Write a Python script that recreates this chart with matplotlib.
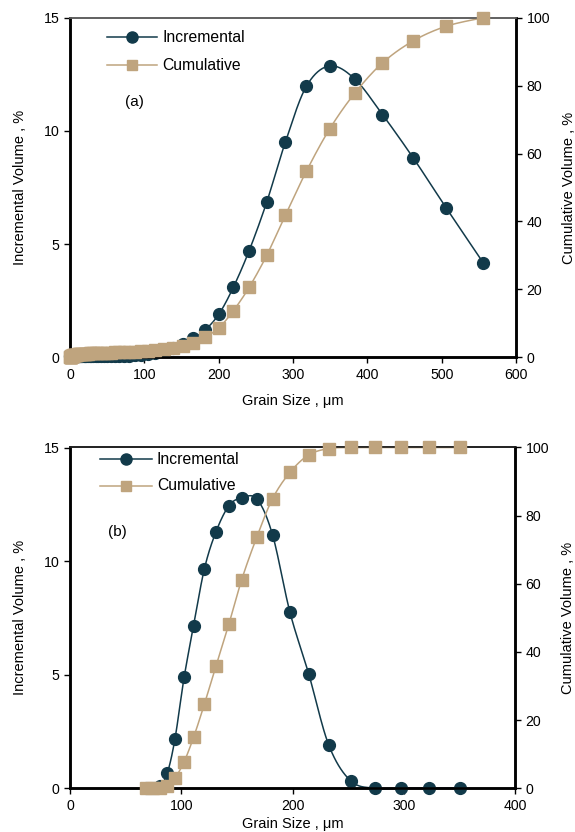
import numpy as np
import matplotlib
matplotlib.use("Agg")
import matplotlib.pyplot as plt
from matplotlib.lines import Line2D

plt.rcParams['font.family'] = ['Liberation Sans', 'DejaVu Sans']

# ---------------- data (a) ----------------
size_a = [0.5, 0.6, 0.7, 0.8, 1.0, 1.1, 1.3, 1.5, 1.7, 2.0, 2.2, 2.4, 2.6, 2.9,
          3.2, 3.5, 3.8, 4.2, 4.6, 5.0, 5.5, 6.0, 6.6, 7.2, 7.9, 8.7, 9.5, 10.5,
          11.5, 12.6, 13.8, 15.1, 16.6, 18.2, 20.0, 21.9, 24.0, 26.3, 28.8, 31.6,
          34.7, 38.0, 41.7, 45.7, 50.1, 55.0, 60.3, 66.1, 72.4, 79.4, 87.1, 95.5,
          104.7, 114.8, 125.9, 138.0, 151.4, 166.0, 181.6, 200.4, 219.7, 241.0,
          264.6, 289.9, 318.0, 349.2, 383.2, 420.4, 461.9, 506.3, 556.0]
inc_a = [0.04, 0.04, 0.04, 0.04, 0.04, 0.04, 0.04, 0.04, 0.04, 0.04, 0.04, 0.04,
         0.04, 0.04, 0.04, 0.04, 0.04, 0.04, 0.04, 0.04, 0.04, 0.04, 0.04, 0.04,
         0.04, 0.04, 0.04, 0.04, 0.04, 0.04, 0.04, 0.04, 0.04, 0.04, 0.04, 0.04,
         0.04, 0.04, 0.04, 0.04, 0.04, 0.04, 0.04, 0.05, 0.05, 0.05, 0.06, 0.06,
         0.07, 0.07, 0.08, 0.10, 0.13, 0.18, 0.28, 0.42, 0.60, 0.84, 1.20, 1.91,
         3.09, 4.71, 6.85, 9.52, 11.97, 12.87, 12.29, 10.72, 8.80, 6.59, 4.17]
cum_a = [0.02, 0.05, 0.08, 0.11, 0.14, 0.17, 0.20, 0.23, 0.26, 0.29, 0.32, 0.35,
         0.38, 0.41, 0.44, 0.47, 0.50, 0.53, 0.56, 0.59, 0.62, 0.65, 0.68, 0.71,
         0.74, 0.77, 0.80, 0.83, 0.86, 0.89, 0.92, 0.95, 0.98, 1.01, 1.04, 1.07,
         1.10, 1.13, 1.16, 1.19, 1.22, 1.25, 1.28, 1.32, 1.36, 1.40, 1.45, 1.50,
         1.56, 1.62, 1.70, 1.80, 1.93, 2.10, 2.35, 2.75, 3.40, 4.30, 5.90, 8.70,
         13.7, 20.6, 30.0, 41.9, 54.8, 67.2, 77.8, 86.7, 93.2, 97.5, 100.0]

# ---------------- data (b) ----------------
size_b = [68.7, 74.6, 80.9, 87.4, 94.3, 102.6, 111.1, 120.7, 131.2, 142.9, 154.2,
          168.0, 182.1, 197.7, 214.5, 232.7, 252.5, 274.4, 297.1, 322.6, 350.4]
inc_b = [0.00, 0.02, 0.10, 0.66, 2.16, 4.89, 7.15, 9.64, 11.29, 12.44, 12.78,
         12.73, 11.15, 7.75, 5.05, 1.89, 0.32, 0.00, 0.00, 0.00, 0.00]
cum_b = [0.00, 0.02, 0.12, 0.78, 2.94, 7.83, 14.98, 24.6, 35.9, 48.3, 61.1,
         73.8, 85.0, 92.7, 97.8, 99.7, 100.0, 100.0, 100.0, 100.0, 100.0]

INC_COLOR = '#123A4A'
CUM_COLOR = '#BFA47E'


def smooth(x, y, xr, yr, n=20):
    """Catmull-Rom smoothing of a polyline in normalized axes space (drawing only)."""
    x = np.asarray(x, float) / xr
    y = np.asarray(y, float) / yr
    px = np.concatenate([[x[0]], x, [x[-1]]])
    py = np.concatenate([[y[0]], y, [y[-1]]])
    outx, outy = [], []
    t = np.linspace(0, 1, n, endpoint=False)
    for i in range(1, len(px) - 2):
        p0x, p1x, p2x, p3x = px[i - 1], px[i], px[i + 1], px[i + 2]
        p0y, p1y, p2y, p3y = py[i - 1], py[i], py[i + 1], py[i + 2]
        c1x = p1x + (p2x - p0x) / 6
        c1y = p1y + (p2y - p0y) / 6
        c2x = p2x - (p3x - p1x) / 6
        c2y = p2y - (p3y - p1y) / 6
        bx = ((1 - t) ** 3) * p1x + 3 * ((1 - t) ** 2) * t * c1x + 3 * (1 - t) * t ** 2 * c2x + t ** 3 * p2x
        by = ((1 - t) ** 3) * p1y + 3 * ((1 - t) ** 2) * t * c1y + 3 * (1 - t) * t ** 2 * c2y + t ** 3 * p2y
        outx.extend(bx)
        outy.extend(by)
    outx.append(x[-1])
    outy.append(y[-1])
    return np.array(outx) * xr, np.array(outy) * yr


fig = plt.figure(figsize=(5.75, 8.32), dpi=100)

panels = [
    dict(rect=[70 / 575, 1 - 357.3 / 832, 446 / 575, 339.6 / 832], x=size_a, inc=inc_a,
         cum=cum_a, xmax=600, xticks=[0, 100, 200, 300, 400, 500, 600], tag='(a)',
         tagpos=(125, 102), leg=(107, 157, 37, 65), topcolor='#606060', xpad=9),
    dict(rect=[70 / 575, 1 - 788.3 / 832, 445 / 575, 340.8 / 832], x=size_b, inc=inc_b,
         cum=cum_b, xmax=400, xticks=[0, 100, 200, 300, 400], tag='(b)',
         tagpos=(108, 532), leg=(100, 152, 459, 486), topcolor='#202020', xpad=3),
]

for p in panels:
    ax = fig.add_axes(p['rect'])
    ax2 = ax.twinx()
    ax.set_xlim(0, p['xmax'])
    ax.set_ylim(0, 15)
    ax2.set_ylim(0, 100)
    ax.set_zorder(1)
    ax2.set_zorder(2)
    ax.patch.set_visible(False)

    sx, sy = smooth(p['x'], p['inc'], p['xmax'], 15)
    ax.plot(sx, sy, color=INC_COLOR, lw=1.1, clip_on=False, zorder=2)
    ax.plot(p['x'], p['inc'], ls='none', marker='o', ms=8.5, color=INC_COLOR,
            mec=INC_COLOR, clip_on=False, zorder=3)

    sx, sy = smooth(p['x'], p['cum'], p['xmax'], 100)
    ax2.plot(sx, sy, color=CUM_COLOR, lw=1.1, clip_on=False, zorder=2)
    ax2.plot(p['x'], p['cum'], ls='none', marker='s', ms=8, color=CUM_COLOR,
             mec=CUM_COLOR, clip_on=False, zorder=3)

    ax.set_xticks(p['xticks'])
    ax.set_yticks([0, 5, 10, 15])
    ax2.set_yticks([0, 20, 40, 60, 80, 100])
    for a in (ax, ax2):
        a.tick_params(direction='out', length=4, width=1, labelsize=10.2, colors='black')
        for s in a.spines.values():
            s.set_linewidth(1.8)
            s.set_color('black')
        a.spines['top'].set_linewidth(1.2)
        a.spines['top'].set_color(p['topcolor'])

    ax.set_ylabel('Incremental Volume , %', fontsize=10.5, labelpad=12)
    ax2.set_ylabel('Cumulative Volume , %', fontsize=10.5, labelpad=9)
    ax.set_xlabel('Grain Size , μm', fontsize=10.5, labelpad=p['xpad'])

    tx, ty = p['tagpos']
    fig.text(tx / 575, 1 - ty / 832, p['tag'], fontsize=11, va='center', ha='left')

    lx0, lx1, y1, y2 = p['leg']
    for yy, col, mk, ms, lab in [(y1, INC_COLOR, 'o', 8, 'Incremental'),
                                 (y2, CUM_COLOR, 's', 7.5, 'Cumulative')]:
        fy = 1 - yy / 832
        fig.add_artist(Line2D([lx0 / 575, lx1 / 575], [fy, fy], color=col, lw=1.1,
                              transform=fig.transFigure))
        fig.add_artist(Line2D([(lx0 + lx1) / 2 / 575], [fy], color=col, marker=mk, ms=ms,
                              ls='none', transform=fig.transFigure))
        fig.text((lx1 + 5) / 575, fy, lab, fontsize=11.3, va='center', ha='left')

fig.savefig('out.png', dpi=100)
